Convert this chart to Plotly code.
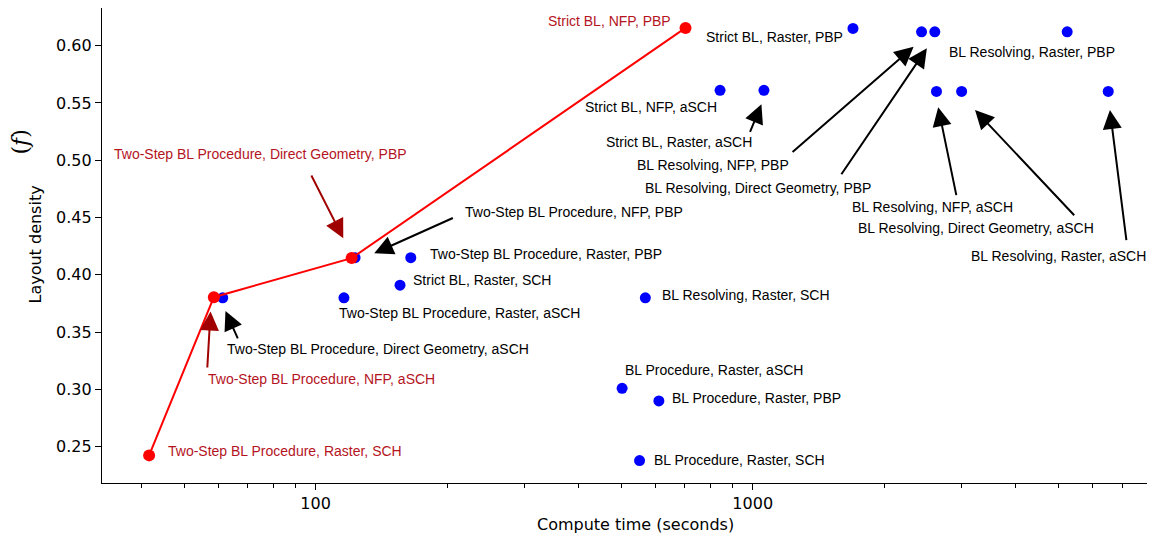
import numpy as np
import plotly.graph_objects as go

# Pareto front (red)
front_time = [41.6, 58.5, 120.9, 702]
front_density = [0.2425, 0.3805, 0.4146, 0.6154]

# Other configurations (blue)
other_time = [61.3, 123.1, 165.1, 156.0, 116.1, 568, 502.6, 610, 551,
              1696, 2434, 2610, 5242, 842, 1061, 2633, 3006, 6508]
other_density = [0.380, 0.415, 0.415, 0.391, 0.380, 0.380, 0.301, 0.290, 0.238,
                 0.615, 0.612, 0.612, 0.612, 0.561, 0.561, 0.560, 0.560, 0.560]

# Labels: text, x, y, anchor, colour
label_text = [
    "Two-Step BL Procedure, Raster, SCH",
    "Two-Step BL Procedure, NFP, aSCH",
    "Two-Step BL Procedure, Direct Geometry, PBP",
    "Strict BL, NFP, PBP",
    "Two-Step BL Procedure, Direct Geometry, aSCH",
    "Two-Step BL Procedure, NFP, PBP",
    "Two-Step BL Procedure, Raster, PBP",
    "Strict BL, Raster, SCH",
    "Two-Step BL Procedure, Raster, aSCH",
    "BL Resolving, Raster, SCH",
    "BL Procedure, Raster, aSCH",
    "BL Procedure, Raster, PBP",
    "BL Procedure, Raster, SCH",
    "Strict BL, Raster, PBP",
    "BL Resolving, Raster, PBP",
    "Strict BL, NFP, aSCH",
    "Strict BL, Raster, aSCH",
    "BL Resolving, NFP, PBP",
    "BL Resolving, Direct Geometry, PBP",
    "BL Resolving, NFP, aSCH",
    "BL Resolving, Direct Geometry, aSCH",
    "BL Resolving, Raster, aSCH",
]
label_x = [45.5, 56.1, 34.3, 658, 62.1, 217.7, 180.3, 165.7, 112.0, 613.7, 504.7,
           648.1, 587.7, 1623, 2783, 408.4, 457.9, 536.5, 561.9, 1666, 1722, 3120]
label_y = [0.2461, 0.309, 0.5051, 0.6215, 0.3351, 0.4546, 0.4182, 0.3953, 0.3665,
           0.3827, 0.3167, 0.2923, 0.2382, 0.6072, 0.5942, 0.5467, 0.5156, 0.4958,
           0.4755, 0.4589, 0.4411, 0.4167]
label_anchor = ["left", "left", "left", "right"] + ["left"] * 9 + ["right"] + ["left"] * 8
label_red = [True, True, True, True] + [False] * 18

# Arrows: tail -> tip
arrow_tail_x = [97.4, 56.5, 66.6, 207.7, 982.9, 1224, 1587, 2928, 5480, 7168]
arrow_tail_y = [0.488, 0.3179, 0.3432, 0.4502, 0.5235, 0.506, 0.4865, 0.4682, 0.4507, 0.4289]
arrow_tip_x = [115.7, 57.5, 62.2, 136.2, 1047, 2334, 2503, 2657, 3226, 6565]
arrow_tip_y = [0.4319, 0.368, 0.3685, 0.4188, 0.5488, 0.599, 0.5976, 0.5462, 0.5438, 0.5438]
arrow_red = [True, True] + [False] * 8

y_ticks = [0.25, 0.30, 0.35, 0.40, 0.45, 0.50, 0.55, 0.60]
x_ticks = [100, 1000]
x_minor = [40, 50, 60, 70, 80, 90, 200, 300, 400, 500, 600, 700, 800, 900,
           2000, 3000, 4000, 5000, 6000, 7000, 8000]

TEXT_RED = "#b4141e"
ARROW_RED = "#a00000"

fig = go.Figure()
fig.add_trace(go.Scatter(x=other_time, y=other_density, mode="markers",
                         marker=dict(color="#0000ff", size=11), showlegend=False))
fig.add_trace(go.Scatter(x=front_time, y=front_density, mode="lines+markers",
                         line=dict(color="#ff0000", width=2),
                         marker=dict(color="#ff0000", size=12), showlegend=False))

ann = []
for t, x, y, a, r in zip(label_text, label_x, label_y, label_anchor, label_red):
    ann.append(dict(x=np.log10(x), y=y, xref="x", yref="y", text=t, showarrow=False,
                    xanchor=a, yanchor="middle",
                    font=dict(family="Liberation Sans", size=14,
                              color=TEXT_RED if r else "#000000")))
for tx, ty, hx, hy, r in zip(arrow_tail_x, arrow_tail_y, arrow_tip_x, arrow_tip_y, arrow_red):
    ann.append(dict(x=np.log10(hx), y=hy, xref="x", yref="y",
                    ax=np.log10(tx), ay=ty, axref="x", ayref="y",
                    text="", showarrow=True, arrowhead=2, arrowsize=1.9,
                    arrowwidth=2, standoff=0, startstandoff=0,
                    arrowcolor=ARROW_RED if r else "#000000"))

# page body has an 8px margin; plot area in window pixels: x 102..1155, y 8..483
OFF = 8
PL, PR, PT, PB = 102, 1155, 8, 483
W, H = 1155 - OFF, 538 - OFF
def px(xp):
    return (xp - PL) / (PR - PL)
def py(yp):
    return (PB - yp) / (PB - PT)

ann.append(dict(x=px(35), y=py(244.5), xref="paper", yref="paper", text="Layout density",
                textangle=-90, showarrow=False, xanchor="center", yanchor="middle",
                font=dict(family="DejaVu Sans", size=16, color="#000000")))
ann.append(dict(x=px(20), y=py(142.5), xref="paper", yref="paper", text="(<i>f</i>)",
                textangle=-90, showarrow=False, xanchor="center", yanchor="middle",
                font=dict(family="DejaVu Serif", size=22, color="#000000")))
ann.append(dict(x=px(635), y=py(524), xref="paper", yref="paper",
                text="Compute time (seconds)", showarrow=False,
                xanchor="center", yanchor="middle",
                font=dict(family="DejaVu Sans", size=16, color="#000000")))

fig.update_layout(
    width=W, height=H, autosize=False,
    margin=dict(l=PL - OFF, r=W - (PR - OFF), t=PT - OFF, b=H - (PB - OFF), pad=0),
    plot_bgcolor="white", paper_bgcolor="white",
    annotations=ann,
    xaxis=dict(type="log", range=[1.5113, 3.9204], showgrid=False, zeroline=False,
               showline=True, linecolor="black", linewidth=1.3, mirror=True,
               tickmode="array", tickvals=x_ticks, ticktext=[str(v) for v in x_ticks],
               ticks="outside", ticklen=6, tickwidth=1.3, tickcolor="black",
               tickfont=dict(family="DejaVu Sans", size=16, color="black"),
               minor=dict(tickmode="array", tickvals=x_minor, ticks="outside",
                          ticklen=3.5, tickwidth=1, tickcolor="black", showgrid=False)),
    yaxis=dict(range=[0.2184, 0.6328], showgrid=False, zeroline=False,
               showline=True, linecolor="black", linewidth=1.3, mirror=False,
               tickmode="array", tickvals=y_ticks, ticktext=["%.2f" % v for v in y_ticks],
               ticks="outside", ticklen=6, tickwidth=1.3, tickcolor="black",
               tickfont=dict(family="DejaVu Sans", size=16, color="black")),
)

fig.write_html("out.html")
